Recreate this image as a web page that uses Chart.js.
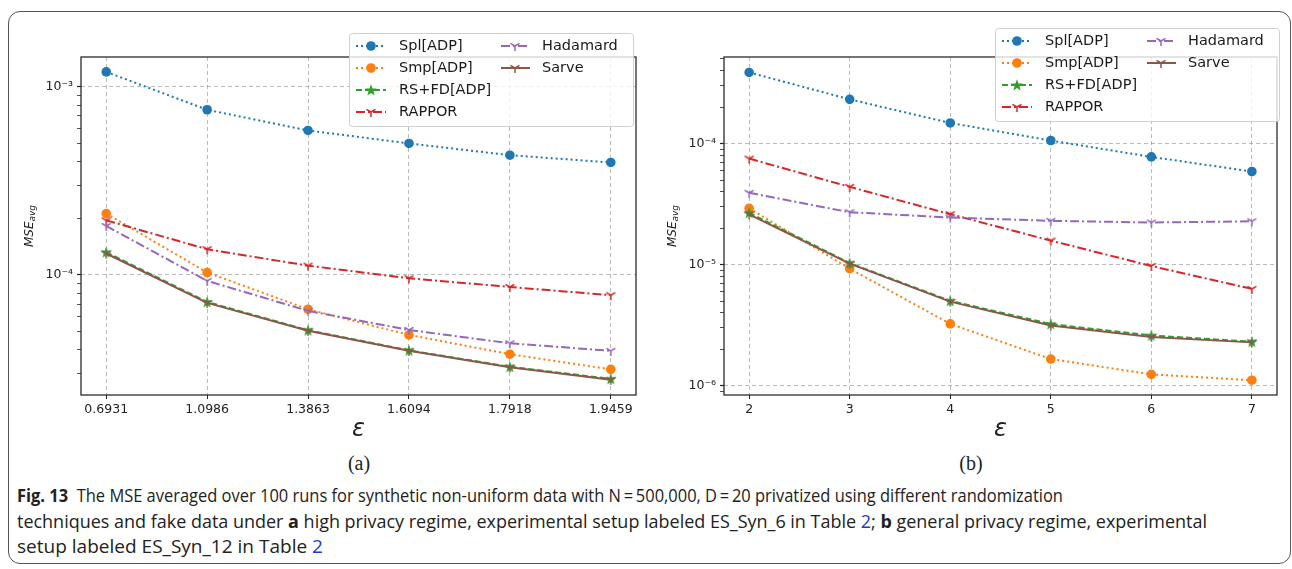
<!DOCTYPE html>
<html>
<head>
<meta charset="utf-8">
<script src="https://cdn.jsdelivr.net/npm/chart.js@4.4.1/dist/chart.umd.min.js"></script>
<style>
  html, body { margin: 0; padding: 0; background: #fff; }
  #page { position: relative; width: 1292px; height: 569px; overflow: hidden; background: #fff; }
  #frame { position: absolute; left: 8px; top: 11px; width: 1283px; height: 553px; box-sizing: border-box;
           border: 1.5px solid #555; border-radius: 12px; }
  .box { position: absolute; top: 0; height: 450px; }
  .sub { position: absolute; top: 451px; font: 20px "Liberation Serif", serif; color: #222; transform: translateX(-50%); line-height: 24px; }
  #cap { position: absolute; left: 17px; top: 482px; font-family: "Open Sans", sans-serif; font-size: 18.5px; color: #222; }
  .ln { white-space: nowrap; line-height: 25.5px; transform-origin: 0 50%; display: block; width: max-content; }
  .lnk { color: #1a3cd0; }
</style>
</head>
<body>
<div id="page">
  <div id="frame"></div>
  <div class="box" style="left:0;width:645px"><canvas id="chartA" width="645" height="450"></canvas></div>
  <div class="box" style="left:645px;width:647px"><canvas id="chartB" width="647" height="450"></canvas></div>
  <div class="sub" style="left:359px">(a)</div>
  <div class="sub" style="left:971px">(b)</div>
  <div id="cap">
    <div class="ln" data-w="1046"><b>Fig. 13</b>&nbsp; The MSE averaged over 100 runs for synthetic non-uniform data with N&thinsp;=&thinsp;500,000, D&thinsp;=&thinsp;20 privatized using different randomization</div>
    <div class="ln" data-w="1190">techniques and fake data under <b>a</b> high privacy regime, experimental setup labeled ES_Syn_6 in Table <span class="lnk">2</span>; <b>b</b> general privacy regime, experimental</div>
    <div class="ln" data-w="306">setup labeled ES_Syn_12 in Table <span class="lnk">2</span></div>
  </div>
</div>
<script>
// ==== DỮ LIỆU (a): chế độ riêng tư cao ====
const epsA = ["0.6931", "1.0986", "1.3863", "1.6094", "1.7918", "1.9459"];
const splA = [1.2e-3, 7.55e-4, 5.86e-4, 5.0e-4, 4.33e-4, 3.96e-4];
const smpA = [2.12e-4, 1.03e-4, 6.57e-5, 4.8e-5, 3.79e-5, 3.15e-5];
const rsfdA = [1.32e-4, 7.18e-5, 5.08e-5, 3.97e-5, 3.25e-5, 2.8e-5];
const rapporA = [1.95e-4, 1.37e-4, 1.12e-4, 9.6e-5, 8.63e-5, 7.8e-5];
const hadamardA = [1.82e-4, 9.3e-5, 6.44e-5, 5.1e-5, 4.33e-5, 3.95e-5];
const sarveA = [1.3e-4, 7.1e-5, 5.05e-5, 3.95e-5, 3.23e-5, 2.77e-5];

// ==== DỮ LIỆU (b): chế độ riêng tư thông thường ====
const epsB = ["2", "3", "4", "5", "6", "7"];
const splB = [3.87e-4, 2.32e-4, 1.48e-4, 1.06e-4, 7.76e-5, 5.88e-5];
const smpB = [2.92e-5, 9.27e-6, 3.24e-6, 1.66e-6, 1.24e-6, 1.11e-6];
const rsfdB = [2.68e-5, 1.03e-5, 5.02e-6, 3.23e-6, 2.6e-6, 2.31e-6];
const rapporB = [7.52e-5, 4.39e-5, 2.61e-5, 1.58e-5, 9.75e-6, 6.3e-6];
const hadamardB = [3.92e-5, 2.71e-5, 2.45e-5, 2.3e-5, 2.23e-5, 2.28e-5];
const sarveB = [2.6e-5, 1.02e-5, 4.95e-6, 3.14e-6, 2.53e-6, 2.28e-6];

const seriesNames = ["Spl[ADP]", "Smp[ADP]", "RS+FD[ADP]", "RAPPOR", "Hadamard", "Sarve"];

const C = {
    blue: "#1f77b4", orange: "#ff7f0e", green: "#2ca02c",
    red: "#d62728", purple: "#9467bd", brown: "#8c564b",
};
const FONT = '"DejaVu Sans", sans-serif';
const SUP = { "-": "\u207B", 0: "\u2070", 1: "\u00B9", 2: "\u00B2", 3: "\u00B3", 4: "\u2074", 5: "\u2075", 6: "\u2076", 7: "\u2077", 8: "\u2078", 9: "\u2079" };

// ==== MARKER: tri_down (Y) và ngôi sao ====
function triMarker(color) {
    const c = document.createElement("canvas");
    c.width = c.height = 12;
    const g = c.getContext("2d");
    g.strokeStyle = color;
    g.lineWidth = 1.5;
    g.beginPath();
    g.moveTo(6, 6); g.lineTo(6, 11);
    g.moveTo(6, 6); g.lineTo(6 - 4.5, 3.4);
    g.moveTo(6, 6); g.lineTo(6 + 4.5, 3.4);
    g.stroke();
    return c;
}

function starMarker(color) {
    const c = document.createElement("canvas");
    c.width = c.height = 14;
    const g = c.getContext("2d");
    g.fillStyle = color;
    g.beginPath();
    for (let k = 0; k < 10; k++) {
        const r = k % 2 === 0 ? 6.2 : 2.6;
        const a = -Math.PI / 2 + (k * Math.PI) / 5;
        const x = 7 + r * Math.cos(a), y = 7.5 + r * Math.sin(a);
        k === 0 ? g.moveTo(x, y) : g.lineTo(x, y);
    }
    g.closePath();
    g.fill();
    return c;
}

function makeSets(values) {
    const styles = [
        { color: C.blue, dash: [2, 3], marker: "circle" },
        { color: C.orange, dash: [2, 3], marker: "circle" },
        { color: C.green, dash: [6, 3], marker: starMarker(C.green) },
        { color: C.red, dash: [9, 3, 2, 3], marker: triMarker(C.red) },
        { color: C.purple, dash: [9, 3, 2, 3], marker: triMarker(C.purple) },
        { color: C.brown, dash: [], marker: triMarker(C.brown) },
    ];
    return values.map((arr, i) => ({
        label: seriesNames[i],
        data: arr.map((v, k) => ({ x: k, y: v })),
        borderColor: styles[i].color,
        backgroundColor: styles[i].color,
        borderWidth: 2,
        borderDash: styles[i].dash,
        pointStyle: styles[i].marker,
        pointRadius: 4.8,
        pointBorderWidth: 0,
        pointBackgroundColor: styles[i].color,
        pointBorderColor: styles[i].color,
        tension: 0,
        fill: false,
        order: values.length - i,
    }));
}

function isDecade(v) {
    const l = Math.log10(v);
    return Math.abs(l - Math.round(l)) < 1e-6;
}

function logTicks(min, max) {
    const ticks = [];
    for (let e = Math.floor(Math.log10(min)); e <= Math.ceil(Math.log10(max)); e++) {
        for (let m = 1; m <= 9; m++) {
            const v = m * Math.pow(10, e);
            if (v >= min && v <= max) ticks.push({ value: v, major: m === 1 });
        }
    }
    return ticks;
}

function decadeLabel(v) {
    if (!isDecade(v)) return "";
    const e = String(Math.round(Math.log10(v)));
    return "10" + e.split("").map((ch) => SUP[ch]).join("");
}

// ==== PLUGIN: khung, chú thích, nhãn trục ====
const decor = {
    id: "decor",
    afterDatasetsDraw(chart) {
        const a = chart.chartArea, g = chart.ctx;
        g.save();
        g.strokeStyle = "#2b2b2b";
        g.lineWidth = 1.3;
        g.strokeRect(a.left, a.top, a.right - a.left, a.bottom - a.top);
        g.restore();
    },
    afterDraw(chart, args, o) {
        const a = chart.chartArea, g = chart.ctx;

        // nhãn trục y: MSE_avg
        g.save();
        g.translate(a.left - 51, (a.top + a.bottom) / 2);
        g.rotate(-Math.PI / 2);
        g.fillStyle = "#222";
        g.textBaseline = "middle";
        g.font = "italic 12px " + FONT;
        const w1 = g.measureText("MSE").width;
        g.font = "italic 9px " + FONT;
        const w2 = g.measureText("avg").width;
        const x0 = -(w1 + w2) / 2;
        g.font = "italic 12px " + FONT;
        g.fillText("MSE", x0, 0);
        g.font = "italic 9px " + FONT;
        g.fillText("avg", x0 + w1, 3);
        g.restore();

        // nhãn trục x: epsilon
        g.save();
        g.font = "italic 24px " + FONT;
        g.textAlign = "center";
        g.textBaseline = "middle";
        g.fillStyle = "#222";
        g.fillText("\u03B5", (a.left + a.right) / 2, 430);
        g.restore();

        // chú thích 2 cột
        const lx = o.x, ly = o.y;
        g.save();
        g.beginPath();
        g.roundRect(lx + 0.5, ly + 0.5, 284, 93, 3);
        g.fillStyle = "rgba(255,255,255,0.8)";
        g.fill();
        g.strokeStyle = "#cfcfcf";
        g.lineWidth = 1;
        g.stroke();
        const rows = [13, 35, 57, 79];
        chart.data.datasets.forEach((ds, i) => {
            const col = i < 4 ? 0 : 1;
            const y = ly + rows[col ? i - 4 : i];
            const x1 = lx + (col ? 152 : 7), x2 = lx + (col ? 181 : 37);
            const mx = lx + (col ? 166 : 22), tx = lx + (col ? 193 : 50);
            g.setLineDash(ds.borderDash);
            g.strokeStyle = ds.borderColor;
            g.lineWidth = ds.borderWidth;
            g.beginPath();
            g.moveTo(x1, y);
            g.lineTo(x2, y);
            g.stroke();
            g.setLineDash([]);
            if (ds.pointStyle === "circle") {
                g.beginPath();
                g.arc(mx, y, ds.pointRadius, 0, Math.PI * 2);
                g.fillStyle = ds.pointBackgroundColor;
                g.fill();
            } else {
                const im = ds.pointStyle;
                g.drawImage(im, mx - im.width / 2, y - im.height / 2);
            }
            g.fillStyle = "#1a1a1a";
            g.font = "14.5px " + FONT;
            g.textBaseline = "middle";
            g.fillText(ds.label, tx, y + 0.5);
        });
        g.restore();
    },
};

function buildChart(id, labels, values, yMin, yMax, yWidth, padRight, legendPos) {
    const gridColor = "rgba(120,120,120,0.5)";
    return new Chart(document.getElementById(id), {
        type: "line",
        data: { datasets: makeSets(values) },
        options: {
            responsive: false,
            animation: false,
            layout: { padding: { left: 0, top: 57, right: padRight, bottom: 0 } },
            plugins: { legend: { display: false }, tooltip: { enabled: false }, decor: legendPos },
            scales: {
                x: {
                    type: "linear",
                    min: -0.25,
                    max: 5.25,
                    afterBuildTicks: (s) => { s.ticks = labels.map((_, i) => ({ value: i })); },
                    afterFit: (s) => { s.height = 55; },
                    ticks: {
                        autoSkip: false,
                        maxRotation: 0,
                        padding: 3,
                        color: "#222",
                        font: { family: FONT, size: 12.5 },
                        callback: (v) => labels[v],
                    },
                    grid: { color: gridColor, tickColor: "#222", tickLength: 4, lineWidth: 1, tickBorderDash: [] },
                    border: { display: false, dash: [4, 3] },
                },
                y: {
                    type: "logarithmic",
                    min: yMin,
                    max: yMax,
                    afterBuildTicks: (s) => { s.ticks = logTicks(yMin, yMax); },
                    afterFit: (s) => { s.width = yWidth; },
                    ticks: {
                        autoSkip: false,
                        padding: 4,
                        color: "#222",
                        font: { family: FONT, size: 12.5 },
                        callback: (v) => decadeLabel(v),
                    },
                    grid: {
                        color: (c) => (c.tick && isDecade(c.tick.value) ? gridColor : "rgba(0,0,0,0)"),
                        tickColor: "#222",
                        tickWidth: (c) => (c.tick && isDecade(c.tick.value) ? 1.2 : 0.8),
                        tickLength: 4,
                        tickBorderDash: [],
                    },
                    border: { display: false, dash: [4, 3] },
                },
            },
        },
        plugins: [decor],
    });
}

buildChart("chartA", epsA, [splA, smpA, rsfdA, rapporA, hadamardA, sarveA],
    2.3e-5, 1.44e-3, 81, 9, { x: 349, y: 33 });
buildChart("chartB", epsB, [splB, smpB, rsfdB, rapporB, hadamardB, sarveB],
    8.38e-7, 5.19e-4, 79, 15, { x: 350, y: 28 });

// ==== KHỚP ĐỘ RỘNG DÒNG CHÚ THÍCH ====
document.querySelectorAll(".ln").forEach((el) => {
    const w = el.getBoundingClientRect().width;
    const target = Number(el.dataset.w);
    el.style.transform = "scaleX(" + (target / w).toFixed(4) + ")";
});
</script>
</body>
</html>
